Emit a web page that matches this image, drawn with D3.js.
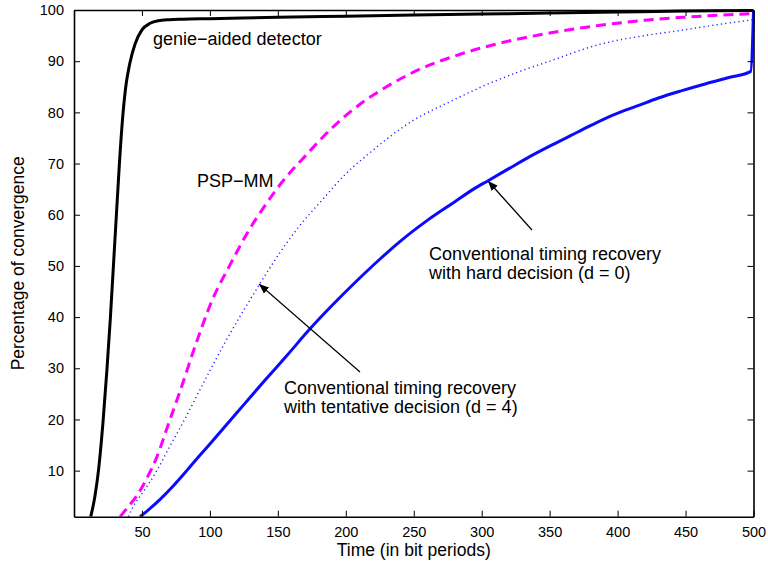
<!DOCTYPE html>
<html>
<head>
<meta charset="utf-8">
<script src="https://cdn.jsdelivr.net/npm/d3@7"></script>
<style>
  body { margin: 0; background: #fff; }
  text { font-family: "Liberation Sans", Arial, Helvetica, sans-serif; fill: #000; }
</style>
</head>
<body>
<div id="chart"></div>
<script>
// convergence curves (time in bit periods, percent)
var genieT = [12.3, 15.4, 18, 21.5, 24.3, 26.8, 29, 31.2, 33.3, 35.5, 38, 41, 45, 50, 56, 62, 70, 80, 100, 150, 200, 250, 300, 350, 400, 450, 500];
var genieV = [1, 5, 10, 20, 30, 40, 50, 60, 69.5, 78, 84.8, 89.5, 93.4, 96.1, 97.4, 97.9, 98.1, 98.2, 98.3, 98.6, 98.8, 99.0, 99.2, 99.4, 99.6, 99.8, 99.9];

var pspT = [34, 40, 46, 53, 61, 70, 78, 90, 102, 115, 127, 140, 152, 172, 190, 210, 230, 255, 280, 313, 350, 387, 420, 450, 475, 500];
var pspV = [1, 3, 5, 8.2, 12.7, 19.5, 25.5, 35, 43.5, 50.3, 56.2, 61.6, 66, 72, 77, 81.5, 85, 88.5, 91, 93.5, 95.5, 97, 98, 98.6, 99.0, 99.3];

var tentT = [40, 43.6, 50, 61, 70, 80, 95, 110, 123, 137, 150, 165, 183, 200, 215, 250, 276, 300, 328, 350, 387, 420, 446, 475, 500];
var tentV = [1, 3, 5.5, 10, 14.5, 19.3, 27, 34.5, 40.5, 46.6, 52, 57.5, 63, 68, 71.5, 78.5, 82, 85, 88, 90, 93.3, 95, 96, 97.2, 98.1];

var hardT = [48.6, 55, 63, 73, 83, 92, 100, 110, 125, 140, 157, 174, 190, 207, 225, 240, 260, 280, 294, 305, 320, 335, 350, 365, 380, 397, 415, 430, 448, 465, 482, 498, 500];
var hardV = [1, 2.4, 4.3, 7, 10, 12.8, 15.2, 18.3, 22.9, 27.5, 32.6, 37.8, 42.3, 46.8, 51.3, 54.8, 58.9, 62.5, 65, 66.7, 69, 71.3, 73.4, 75.4, 77.4, 79.5, 81.3, 82.8, 84.3, 85.6, 86.8, 88, 99.8];

var xTicks = [50, 100, 150, 200, 250, 300, 350, 400, 450, 500];
var yTicks = [10, 20, 30, 40, 50, 60, 70, 80, 90, 100];

(function() {
  var width = 768, height = 569;
  var left = 74, right = 753.5, top = 10, bottom = 516.7;

  var svg = d3.select("#chart")
    .append("svg")
    .attr("width", width)
    .attr("height", height);

  var xScale = d3.scaleLinear().domain([0, 500]).range([left, right]);
  var yScale = d3.scaleLinear().domain([1, 100]).range([bottom, top]);

  svg.append("defs").append("clipPath")
    .attr("id", "plot-clip")
    .append("rect")
    .attr("x", left).attr("y", top - 2)
    .attr("width", right - left + 2).attr("height", bottom - top + 2);

  svg.append("defs").append("marker")
    .attr("id", "head")
    .attr("viewBox", "0 0 10 10")
    .attr("refX", 10).attr("refY", 5)
    .attr("markerWidth", 10).attr("markerHeight", 10)
    .attr("markerUnits", "userSpaceOnUse")
    .attr("orient", "auto")
    .append("path")
    .attr("d", "M0,1 L10,5 L0,9 Z")
    .attr("fill", "#000");

  function pairs(ts, vs) {
    return ts.map(function(t, i) { return [t, vs[i]]; });
  }

  var line = d3.line()
    .x(function(d) { return xScale(d[0]); })
    .y(function(d) { return yScale(d[1]); })
    .curve(d3.curveMonotoneX);

  var series = [
    { data: pairs(genieT, genieV), color: "#000", w: 3, dash: null },
    { data: pairs(pspT, pspV), color: "#ff00ff", w: 3, dash: "10,6" },
    { data: pairs(tentT, tentV), color: "#2020ff", w: 1.4, dash: "1.2,3.2" },
    { data: pairs(hardT, hardV), color: "#0a0aff", w: 3, dash: null }
  ];

  var plot = svg.append("g").attr("clip-path", "url(#plot-clip)");

  plot.selectAll(".curve")
    .data(series)
    .enter().append("path")
    .attr("class", "curve")
    .attr("d", function(d) { return line(d.data); })
    .attr("fill", "none")
    .attr("stroke", function(d) { return d.color; })
    .attr("stroke-width", function(d) { return d.w; })
    .attr("stroke-dasharray", function(d) { return d.dash; })
    .attr("stroke-linejoin", "round");

  // axes, matlab style: ticks pointing in, box all round
  var tickLen = 6;
  var xAxis = d3.axisBottom(xScale).tickValues(xTicks).tickSizeInner(-tickLen).tickSizeOuter(0).tickPadding(10);
  var xAxisTop = d3.axisTop(xScale).tickValues(xTicks).tickSizeInner(-tickLen).tickSizeOuter(0).tickFormat("");
  var yAxis = d3.axisLeft(yScale).tickValues(yTicks).tickSizeInner(-tickLen).tickSizeOuter(0).tickPadding(10);
  var yAxisRight = d3.axisRight(yScale).tickValues(yTicks).tickSizeInner(-tickLen).tickSizeOuter(0).tickFormat("");

  svg.append("g").attr("class", "x axis")
    .attr("transform", "translate(0," + bottom + ")")
    .call(xAxis);
  svg.append("g").attr("class", "x axis")
    .attr("transform", "translate(0," + top + ")")
    .call(xAxisTop);
  svg.append("g").attr("class", "y axis")
    .attr("transform", "translate(" + left + ",0)")
    .call(yAxis);
  svg.append("g").attr("class", "y axis")
    .attr("transform", "translate(" + right + ",0)")
    .call(yAxisRight);

  svg.selectAll(".axis path").attr("stroke", "#000").attr("stroke-width", 1.6);
  svg.selectAll(".axis line").attr("stroke", "#000").attr("stroke-width", 1);
  svg.selectAll(".axis text")
    .style("font-family", "'Liberation Sans', Arial, sans-serif")
    .style("font-size", "14.5px")
    .attr("fill", "#000");

  svg.append("text")
    .attr("x", (left + right) / 2)
    .attr("y", 556)
    .attr("text-anchor", "middle")
    .style("font-size", "17.5px")
    .text("Time (in bit periods)");

  svg.append("text")
    .attr("transform", "translate(24," + ((top + bottom) / 2) + ") rotate(-90)")
    .attr("text-anchor", "middle")
    .style("font-size", "17.5px")
    .text("Percentage of convergence");

  // annotations
  var notes = [
    { x: 153, y: 45, lines: ["genie\u2212aided detector"] },
    { x: 197, y: 187, lines: ["PSP\u2212MM"] },
    { x: 429, y: 260, lines: ["Conventional timing recovery", "with hard decision (d = 0)"] },
    { x: 284, y: 394, lines: ["Conventional timing recovery", "with tentative decision (d = 4)"] }
  ];
  notes.forEach(function(n) {
    var t = svg.append("text")
      .attr("x", n.x).attr("y", n.y)
      .style("font-size", "18px");
    n.lines.forEach(function(s, i) {
      t.append("tspan").attr("x", n.x).attr("dy", i === 0 ? 0 : 18.5).text(s);
    });
  });

  var arrows = [
    { from: [532, 230], to: [488, 181] },
    { from: [360, 372], to: [259, 284] }
  ];
  svg.selectAll(".arrow")
    .data(arrows)
    .enter().append("line")
    .attr("class", "arrow")
    .attr("x1", function(d) { return d.from[0]; })
    .attr("y1", function(d) { return d.from[1]; })
    .attr("x2", function(d) { return d.to[0]; })
    .attr("y2", function(d) { return d.to[1]; })
    .attr("stroke", "#000")
    .attr("stroke-width", 1.2)
    .attr("marker-end", "url(#head)");
})();
</script>
</body>
</html>
